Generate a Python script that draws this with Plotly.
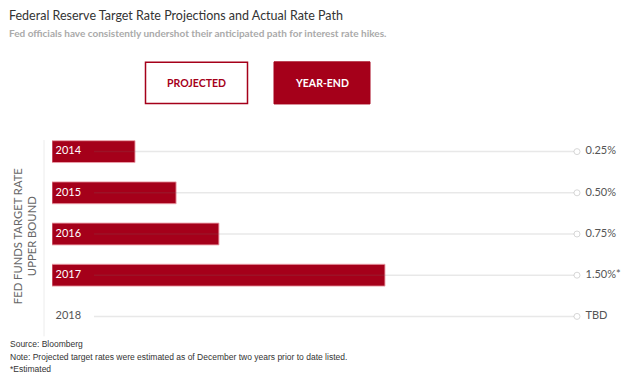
import plotly.graph_objects as go

# ---- data ----
years = ["2014", "2015", "2016", "2017", "2018"]
rate_labels = ["0.25%", "0.50%", "0.75%", "1.50%*", "TBD"]
bar_values = [0.374, 0.559, 0.752, 1.50, None]   # year-end bar lengths as drawn
x_max = 2.365

RED = "#a5001a"
OFF = 8                       # page body margin offset
W, H = 640 - OFF, 379 - OFF
# plot area in page pixel coords: x 52..577, y 131..336.6
L = 52 - OFF
T = 131 - OFF
R = W - (577 - OFF)
B = H - (336.6 - OFF)
PW = W - L - R
PH = H - T - B

def px(x):
    return (x - OFF - L) / PW

def py(y):
    return (H - B - (y - OFF)) / PH

fig = go.Figure()

fig.add_trace(go.Bar(
    y=years, x=bar_values, orientation="h",
    marker=dict(color=RED, line=dict(color="rgba(235,160,170,0.9)", width=1)),
    width=0.53, hoverinfo="skip", showlegend=False,
))

# year labels at the start of each row
fig.add_trace(go.Scatter(
    y=years, x=[0] * len(years), mode="markers+text", text=years,
    textposition="middle right",
    marker=dict(size=4, color="rgba(0,0,0,0)"),
    textfont=dict(family="Lato", size=11,
                  color=["white" if v else "#555" for v in bar_values]),
    cliponaxis=False, hoverinfo="skip", showlegend=False,
))

# end circles on gridlines
fig.add_trace(go.Scatter(
    y=years, x=[x_max] * len(years), mode="markers",
    marker=dict(symbol="circle-open", size=6, color="#d8d8d8", line=dict(width=1)),
    cliponaxis=False, hoverinfo="skip", showlegend=False,
))
# rate labels
fig.add_trace(go.Scatter(
    y=years, x=[x_max] * len(years), mode="markers+text", text=rate_labels,
    textposition="middle right",
    marker=dict(size=12, color="rgba(0,0,0,0)"),
    textfont=dict(family="Lato", size=11, color="#555"),
    cliponaxis=False, hoverinfo="skip", showlegend=False,
))

n = len(years)
shapes = []
for i in range(n):
    yi = n - 1 - i   # index of years[i] in the reversed category order
    shapes.append(dict(type="line", xref="paper", yref="y", x0=px(94), x1=px(574),
                       y0=yi, y1=yi, layer="above",
                       line=dict(color="rgba(110,110,110,0.16)", width=1.5)))
# vertical axis line
shapes.append(dict(type="line", xref="paper", yref="paper", x0=px(44), x1=px(44),
                   y0=py(140), y1=py(336), line=dict(color="#ececec", width=1)))
# buttons
shapes.append(dict(type="rect", xref="paper", yref="paper", x0=px(145.5), x1=px(247.5),
                   y0=py(103.5), y1=py(62.5), line=dict(color=RED, width=1.5),
                   fillcolor="white"))
shapes.append(dict(type="rect", xref="paper", yref="paper", x0=px(274), x1=px(370),
                   y0=py(104), y1=py(62), line=dict(color=RED, width=1),
                   fillcolor=RED))

ann = []

def note(x, y, text, size, color, family="Lato", xanchor="left", **kw):
    ann.append(dict(x=px(x), y=py(y), xref="paper", yref="paper", text=text,
                    showarrow=False, xanchor=xanchor, yanchor="middle",
                    font=dict(family=family, size=size, color=color), **kw))

note(25, 236, "FED FUNDS TARGET RATE<br>UPPER BOUND", 11.25, "#666",
     xanchor="center", textangle=-90)
note(196.5, 83.5, "<b>PROJECTED</b>", 10.5, RED, xanchor="center")
note(322, 83.5, "<b>YEAR-END</b>", 10.5, "white", xanchor="center")
note(7, 16, "Federal Reserve Target Rate Projections and Actual Rate Path", 12.5, "#333")
note(7, 33, "<b>Fed officials have consistently undershot their anticipated path for interest rate hikes.</b>",
     10, "#aaa")
note(8, 344, "Source: Bloomberg", 8.5, "#333", family="Liberation Sans")
note(8, 357, "Note: Projected target rates were estimated as of December two years prior to date listed.",
     8.5, "#333", family="Liberation Sans")
note(8, 369, "*Estimated", 8.5, "#333", family="Liberation Sans")

fig.update_layout(
    width=W, height=H,
    margin=dict(l=L, r=R, t=T, b=B),
    paper_bgcolor="white", plot_bgcolor="white",
    xaxis=dict(range=[0, x_max], visible=False, fixedrange=True),
    yaxis=dict(type="category", categoryorder="array", categoryarray=years[::-1],
               range=[-0.5, 4.5], visible=False),
    shapes=shapes, annotations=ann, bargap=0.47,
)

fig.write_html("out.html")
